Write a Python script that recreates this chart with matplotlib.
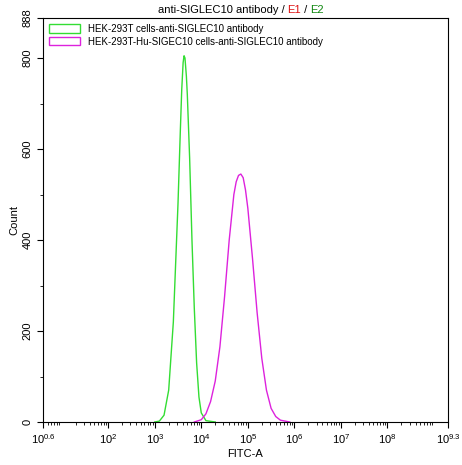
import matplotlib.pyplot as plt
import numpy as np
from matplotlib.patches import Patch
from matplotlib import ticker

plt.rcParams["font.family"] = ["Liberation Sans", "DejaVu Sans"]
plt.rcParams["mathtext.fontset"] = "custom"
plt.rcParams["mathtext.rm"] = "Liberation Sans"

# log10 FITC-A positions and counts
green_log = [3.0, 3.1, 3.2, 3.3, 3.4, 3.5, 3.55, 3.58, 3.61, 3.63, 3.65, 3.68, 3.7, 3.75, 3.8, 3.85, 3.9, 3.95, 4.0, 4.1, 4.3]
green_cnt = [0, 2, 15, 70, 220, 480, 640, 730, 790, 805, 800, 760, 720, 580, 400, 250, 130, 55, 20, 3, 0]
magenta_log = [3.85, 4.0, 4.1, 4.2, 4.3, 4.4, 4.5, 4.6, 4.7, 4.75, 4.8, 4.85, 4.9, 4.95, 5.0, 5.1, 5.2, 5.3, 5.4, 5.5, 5.6, 5.7, 5.9]
magenta_cnt = [0, 5, 18, 45, 90, 165, 275, 400, 500, 528, 542, 545, 537, 510, 470, 360, 240, 140, 70, 30, 12, 4, 0]
labels = ["HEK-293T cells-anti-SIGLEC10 antibody", "HEK-293T-Hu-SIGEC10 cells-anti-SIGLEC10 antibody"]
colors = ["#33dd33", "#dd22dd"]
xtick_exp = [0.6, 2, 3, 4, 5, 6, 7, 8, 9.3]
yticks = [0, 200, 400, 600, 800, 888]

fig = plt.figure(figsize=(4.62, 4.65), dpi=100)
ax = fig.add_axes([43 / 462, 43 / 465, 405 / 462, 404 / 465])

ax.plot(10 ** np.array(green_log), green_cnt, color=colors[0], lw=1)
ax.plot(10 ** np.array(magenta_log), magenta_cnt, color=colors[1], lw=1)

ax.set_xscale("log")
ax.set_xlim(10 ** 0.6, 10 ** 9.3)
ax.set_ylim(0, 888)
ax.set_xticks([10 ** e for e in xtick_exp])
ax.set_xticklabels([f"$10^{{{e:g}}}$" for e in xtick_exp], fontsize=8)
ax.xaxis.set_minor_locator(ticker.LogLocator(base=10, subs=np.arange(2, 10), numticks=20))
ax.xaxis.set_minor_formatter(ticker.NullFormatter())
ax.set_yticks(yticks)
ax.set_yticklabels([str(v) for v in yticks], rotation=90, va="center", fontsize=8)
ax.yaxis.set_minor_locator(ticker.MultipleLocator(100))
ax.tick_params(which="major", length=4, width=0.8)
ax.tick_params(which="minor", length=2, width=0.6)
ax.set_xlabel("FITC-A", fontsize=8, labelpad=2)
ax.set_ylabel("Count", fontsize=8, labelpad=2)

handles = [Patch(facecolor="none", edgecolor=c, label=l) for c, l in zip(colors, labels)]
ax.legend(handles=handles, loc="upper left", frameon=False, fontsize=7,
          handlelength=3.2, handleheight=0.9, borderaxespad=0.2, labelspacing=0.3)

# title with coloured parts
ty = 1 - 10 / 465
t1 = fig.text(0, ty, "anti-SIGLEC10 antibody / ", fontsize=8, va="center")
t2 = fig.text(0, ty, "E1", fontsize=8, va="center", color="#dd1111")
t3 = fig.text(0, ty, " / ", fontsize=8, va="center")
t4 = fig.text(0, ty, "E2", fontsize=8, va="center", color="#118811")
r = fig.canvas.get_renderer()
parts = [t1, t2, t3, t4]
widths = [p.get_window_extent(r).width / fig.bbox.width for p in parts]
x = 0.5 + 10 / 462 - sum(widths) / 2
for p, w in zip(parts, widths):
    p.set_x(x)
    x += w

fig.savefig("out.png", dpi=100)
